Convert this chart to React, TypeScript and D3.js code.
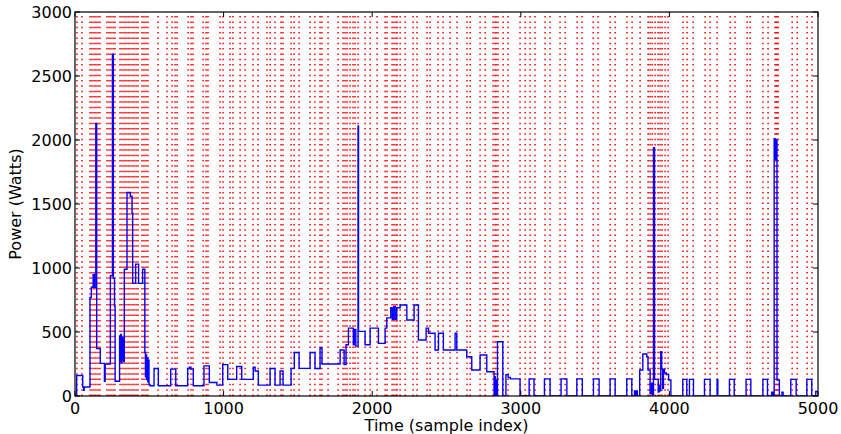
import React, {FC, useEffect, useRef} from 'react';
import * as d3 from 'd3';

// step starts (sample index) and the power held from there on
const stepIdx = [
  0, 11, 52, 58, 62, 101, 110, 122, 130, 140, 146, 170, 198, 203, 238, 252,
  258, 266, 270, 300, 304, 308, 312, 316, 320, 324, 328, 332, 350, 372, 384,
  388, 408, 428, 455, 470, 474, 478, 482, 486, 490, 494, 498, 505, 532, 561,
  644, 678, 758, 770, 780, 796, 868, 904, 955, 994, 1028, 1088, 1122, 1200,
  1212, 1234, 1313, 1346, 1380, 1400, 1454, 1476, 1508, 1582, 1615, 1649,
  1662, 1784, 1811, 1824, 1840, 1873, 1880, 1890, 1905, 1908, 1952, 1986,
  2042, 2087, 2098, 2125, 2135, 2145, 2155, 2165, 2188, 2233, 2282, 2311,
  2363, 2379, 2423, 2446, 2479, 2558, 2569, 2636, 2670, 2726, 2771, 2820,
  2824, 2828, 2832, 2836, 2843, 2879, 2900, 2915, 2930, 2995, 3056, 3089,
  3159, 3197, 3271, 3310, 3377, 3414, 3489, 3527, 3601, 3635, 3713, 3747,
  3765, 3772, 3778, 3784, 3800, 3821, 3848, 3856, 3870, 3880, 3886, 3893,
  3900, 3925, 3930, 3935, 3942, 3948, 3955, 3960, 3967, 3980, 3995, 4010,
  4090, 4117, 4135, 4162, 4236, 4274, 4321, 4326, 4404, 4436, 4516, 4548,
  4629, 4660, 4688, 4698, 4705, 4712, 4718, 4724, 4740, 4758, 4765, 4817,
  4853, 4925, 4958, 4985, 5000,
];
const stepWatts = [
  0, 160, 70, 45, 70, 770, 850, 950, 850, 2130, 370, 255, 115, 250, 940, 2670,
  920, 700, 115, 470, 270, 480, 260, 460, 280, 450, 270, 990, 1590, 1560, 1430,
  880, 1030, 880, 990, 340, 150, 320, 130, 300, 110, 280, 90, 80, 215, 80,
  210, 80, 215, 225, 210, 80, 235, 105, 85, 245, 130, 230, 130, 225,
  195, 85, 215, 85, 195, 85, 216, 340, 216, 340, 215, 375,
  250, 359, 245, 400, 530, 400, 520, 390, 2110, 505, 400, 530,
  411, 530, 610, 690, 600, 700, 600, 690, 711, 594, 711, 437,
  530, 490, 359, 490, 359, 490, 359, 307, 203, 320, 190, 5,
  150, 5, 120, 0, 424, 0, 167, 145, 134, 0, 134, 0,
  134, 0, 134, 0, 134, 0, 134, 0, 134, 0, 134, 0,
  40, 0, 40, 0, 203, 328, 307, 203, 20, 100, 10, 1940,
  130, 30, 80, 40, 346, 210, 60, 210, 180, 167, 125, 0,
  130, 0, 130, 0, 130, 0, 130, 0, 130, 0, 130, 0,
  130, 0, 30, 0, 2010, 1850, 2000, 125, 0, 30, 0, 130,
  0, 130, 0, 35, 35,
];

// detected change points (sample index), drawn as red dotted lines
const changePoints = [
  13, 47, 101, 114, 128, 141, 155, 168, 215, 229, 242, 256, 269, 303, 316,
  330, 343, 357, 370, 384, 397, 411, 424, 451, 464, 478, 491, 559, 619, 653,
  673, 687, 761, 781, 794, 862, 882, 895, 976, 996, 1043, 1063, 1111, 1144,
  1198, 1232, 1292, 1313, 1346, 1387, 1400, 1454, 1474, 1508, 1582, 1615,
  1649, 1662, 1703, 1770, 1804, 1817, 1831, 1851, 1871, 1885, 1905, 1952,
  1986, 2033, 2087, 2100, 2134, 2147, 2161, 2167, 2188, 2221, 2275, 2302,
  2369, 2389, 2443, 2477, 2524, 2571, 2638, 2659, 2726, 2760, 2813, 2827,
  2834, 2847, 2881, 2914, 2995, 3029, 3062, 3096, 3163, 3197, 3264, 3298,
  3379, 3412, 3487, 3520, 3601, 3635, 3715, 3749, 3803, 3857, 3870, 3884,
  3904, 3924, 3937, 3951, 3971, 3991, 4092, 4119, 4160, 4240, 4274, 4321,
  4409, 4442, 4523, 4543, 4630, 4664, 4711, 4718, 4725, 4732, 4826, 4860,
  4927, 4960,
];

const xTicks = [0, 1000, 2000, 3000, 4000, 5000];
const yTicks = [0, 500, 1000, 1500, 2000, 2500, 3000];

const W = 841;
const H = 434;

const PowerChart: FC = () => {
  const ref = useRef<SVGSVGElement>(null);

  const margin = {top: 12, right: 23, bottom: 38, left: 75},
    width = W - margin.left - margin.right,
    height = H - margin.top - margin.bottom;

  useEffect(() => {
    const root = d3.select(ref.current);
    root.selectAll('*').remove();
    const svg = root
      .append('g')
      .attr('transform', `translate(${margin.left}, ${margin.top})`);

    const x = d3.scaleLinear().domain([0, 5000]).range([0, width]);
    const y = d3.scaleLinear().domain([0, 3000]).range([height, 0]);

    svg
      .append('defs')
      .append('clipPath')
      .attr('id', 'plot-clip')
      .append('rect')
      .attr('width', width)
      .attr('height', height);

    const plot = svg.append('g').attr('clip-path', 'url(#plot-clip)');

    // change points
    plot
      .append('g')
      .selectAll('line')
      .data(changePoints)
      .enter()
      .append('line')
      .attr('x1', d => x(d))
      .attr('x2', d => x(d))
      .attr('y1', y(0))
      .attr('y2', y(3000))
      .attr('stroke', '#ff0000')
      .attr('stroke-width', 1.5)
      .attr('stroke-dasharray', '1.5,3.83');

    // power trace
    const pts: [number, number][] = stepIdx.map((d, i) => [d, stepWatts[i]]);
    const line = d3
      .line<[number, number]>()
      .x(d => x(d[0]))
      .y(d => y(d[1]))
      .curve(d3.curveStepAfter);
    plot
      .append('path')
      .datum(pts)
      .attr('fill', 'none')
      .attr('stroke', '#0000ff')
      .attr('stroke-width', 1.4)
      .attr('stroke-linejoin', 'miter')
      .attr('d', line);

    // frame
    svg
      .append('rect')
      .attr('width', width)
      .attr('height', height)
      .attr('fill', 'none')
      .attr('stroke', '#000')
      .attr('stroke-width', 1.2);

    const font = 'DejaVu Sans, sans-serif';
    const tickLen = 5;

    // x ticks, inward on top and bottom
    const xg = svg.append('g');
    xTicks.forEach(t => {
      xg.append('line')
        .attr('x1', x(t)).attr('x2', x(t))
        .attr('y1', height).attr('y2', height - tickLen)
        .attr('stroke', '#000');
      xg.append('line')
        .attr('x1', x(t)).attr('x2', x(t))
        .attr('y1', 0).attr('y2', tickLen)
        .attr('stroke', '#000');
      xg.append('text')
        .attr('x', x(t))
        .attr('y', height + 18)
        .attr('text-anchor', 'middle')
        .attr('font-family', font)
        .attr('font-size', 16)
        .attr('fill', '#000')
        .text(t);
    });

    // y ticks, inward on left and right
    const yg = svg.append('g');
    yTicks.forEach(t => {
      yg.append('line')
        .attr('x1', 0).attr('x2', tickLen)
        .attr('y1', y(t)).attr('y2', y(t))
        .attr('stroke', '#000');
      yg.append('line')
        .attr('x1', width).attr('x2', width - tickLen)
        .attr('y1', y(t)).attr('y2', y(t))
        .attr('stroke', '#000');
      yg.append('text')
        .attr('x', -3)
        .attr('y', y(t))
        .attr('dy', '0.36em')
        .attr('text-anchor', 'end')
        .attr('font-family', font)
        .attr('font-size', 16)
        .attr('fill', '#000')
        .text(t);
    });

    // axis labels
    svg
      .append('text')
      .attr('x', width / 2)
      .attr('y', height + 35)
      .attr('text-anchor', 'middle')
      .attr('font-family', font)
      .attr('font-size', 16)
      .attr('fill', '#000')
      .text('Time (sample index)');
    svg
      .append('text')
      .attr('transform', `translate(${21 - margin.left}, ${height / 2}) rotate(-90)`)
      .attr('text-anchor', 'middle')
      .attr('font-family', font)
      .attr('font-size', 16)
      .attr('fill', '#000')
      .text('Power (Watts)');
  }, [height, width, margin.left, margin.top]);

  return <svg ref={ref} width={W} height={H} style={{display: 'block'}} />;
};

export default function App() {
  return (
    <div style={{position: 'absolute', left: 0, top: 0, width: W, height: H, background: '#fff'}}>
      <PowerChart />
    </div>
  );
}
